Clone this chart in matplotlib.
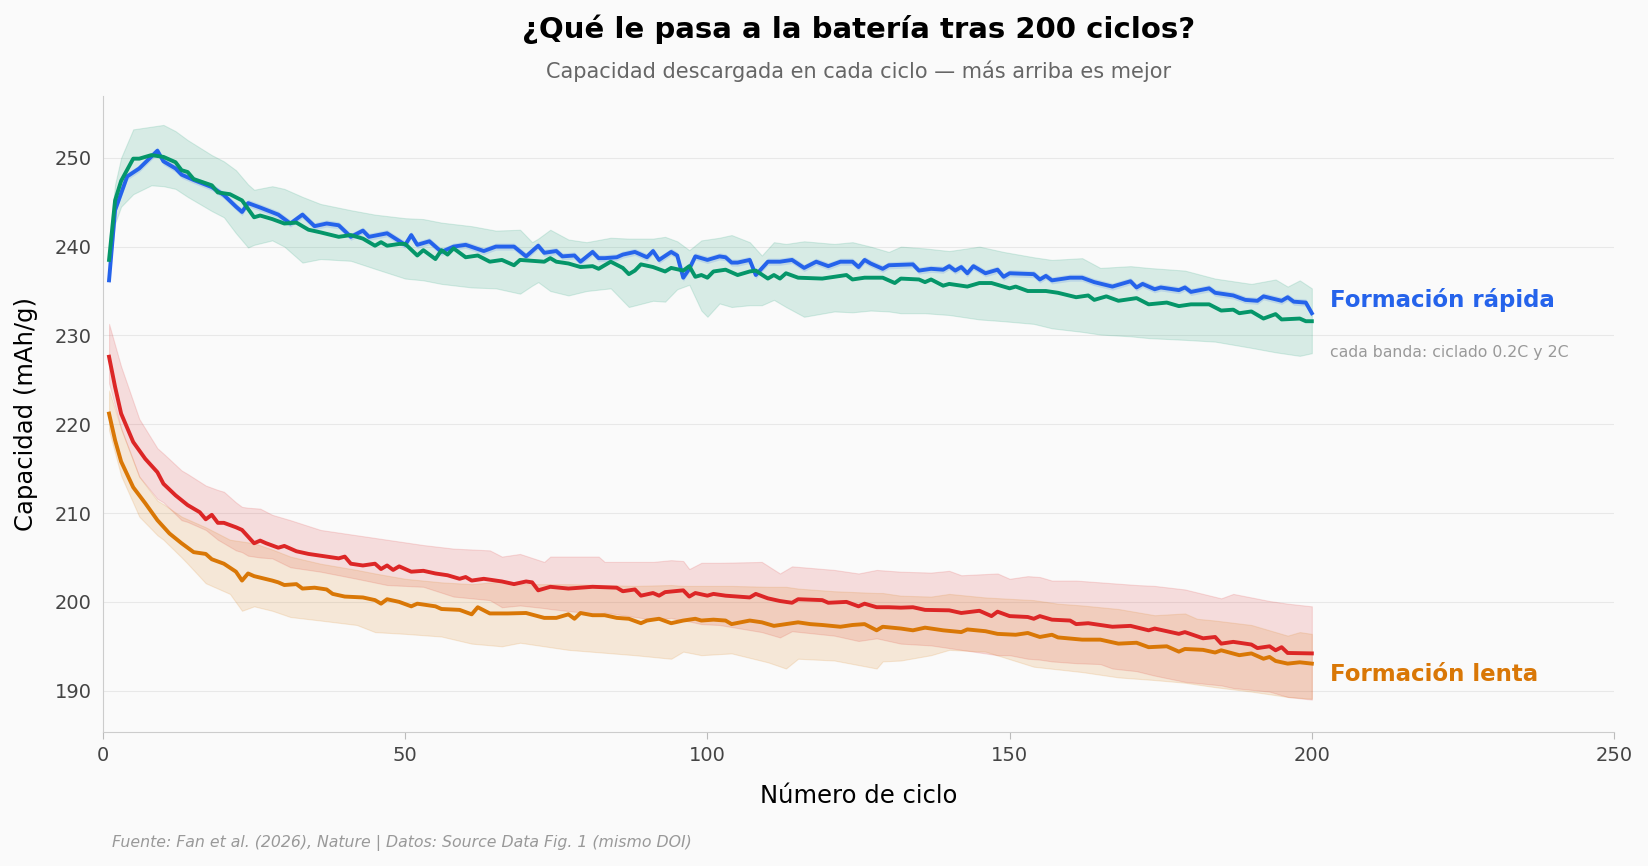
import matplotlib
matplotlib.use("Agg")
import matplotlib.pyplot as plt
import numpy as np

# --- data (cycle, capacity mAh/g) ---
fast_a_cycle = [1, 2, 4, 6, 9, 10, 12, 13, 15, 18, 20, 22, 23, 24, 26, 29, 31, 33, 35, 37,
                39, 41, 43, 44, 47, 50, 51, 52, 54, 56, 58, 60, 63, 65, 68, 70, 72, 73, 75, 76,
                78, 79, 81, 82, 83, 85, 86, 88, 90, 91, 92, 94, 95, 96, 97, 98, 100, 102, 103, 104,
                105, 107, 108, 110, 112, 114, 116, 118, 120, 122, 124, 125, 126, 127, 129, 130, 134, 135, 137, 139,
                140, 141, 142, 143, 144, 146, 148, 149, 150, 154, 155, 156, 157, 160, 162, 164, 167, 170, 171, 172,
                174, 175, 178, 179, 180, 183, 184, 187, 189, 191, 192, 195, 196, 197, 199, 200]
fast_a_cap = [236.2, 244.1, 247.9, 248.8, 250.8, 249.6, 248.8, 248.1, 247.5, 246.7, 245.8, 244.5, 243.9, 244.9, 244.4, 243.6, 242.6, 243.6, 242.3, 242.6,
              242.4, 241.1, 241.8, 241.1, 241.5, 240.2, 241.3, 240.2, 240.6, 239.4, 240.0, 240.2, 239.5, 240.0, 240.0, 238.9, 240.1, 239.3, 239.5, 238.9,
              239.0, 238.3, 239.4, 238.7, 238.7, 238.8, 239.1, 239.4, 238.8, 239.5, 238.5, 239.4, 239.0, 236.5, 237.5, 238.9, 238.5, 238.9, 238.8, 238.2,
              238.2, 238.5, 236.8, 238.3, 238.3, 238.5, 237.6, 238.3, 237.8, 238.3, 238.3, 237.7, 238.5, 238.1, 237.5, 237.9, 238.0, 237.3, 237.5, 237.4,
              237.8, 237.3, 237.7, 237.0, 237.8, 237.0, 237.4, 236.6, 237.0, 236.9, 236.3, 236.7, 236.2, 236.5, 236.5, 236.0, 235.5, 236.1, 235.4, 235.8,
              235.2, 235.4, 235.1, 235.4, 234.9, 235.3, 234.8, 234.5, 234.0, 233.9, 234.4, 233.9, 234.3, 233.8, 233.7, 232.5]
fast_a_spread = 0.4

fast_b_cycle = [1, 2, 3, 5, 6, 8, 10, 12, 13, 14, 15, 18, 19, 21, 23, 25, 26, 28, 30, 32,
                34, 36, 39, 41, 43, 45, 46, 47, 49, 50, 52, 53, 55, 56, 57, 58, 60, 62, 64, 66,
                68, 69, 71, 73, 74, 75, 77, 79, 81, 82, 84, 86, 87, 88, 89, 91, 93, 94, 96, 97,
                98, 99, 100, 101, 103, 105, 107, 108, 110, 111, 112, 113, 115, 119, 121, 123, 124, 126, 129, 131,
                132, 135, 136, 137, 139, 140, 143, 145, 147, 150, 151, 153, 156, 158, 161, 163, 164, 166, 168, 171,
                173, 176, 178, 180, 183, 185, 187, 188, 190, 192, 194, 195, 198, 199, 200]
fast_b_cap = [238.5, 245.2, 247.4, 249.9, 249.9, 250.3, 250.1, 249.5, 248.6, 248.4, 247.6, 246.9, 246.1, 245.9, 245.2, 243.3, 243.5, 243.1, 242.6, 242.7,
              241.9, 241.6, 241.1, 241.3, 240.9, 240.1, 240.5, 240.1, 240.3, 240.3, 239.0, 239.6, 238.6, 239.6, 239.1, 239.8, 238.8, 239.0, 238.3, 238.5,
              237.9, 238.5, 238.4, 238.3, 238.7, 238.3, 238.1, 237.7, 237.8, 237.5, 238.3, 237.6, 236.9, 237.3, 238.0, 237.7, 237.2, 237.6, 237.3, 237.8,
              236.6, 236.8, 236.5, 237.2, 237.4, 236.8, 237.2, 237.3, 236.4, 236.8, 236.4, 237.0, 236.5, 236.4, 236.6, 236.8, 236.3, 236.5, 236.5, 235.9,
              236.4, 236.3, 236.0, 236.3, 235.6, 235.8, 235.5, 235.9, 235.9, 235.3, 235.5, 235.0, 235.0, 234.8, 234.3, 234.5, 234.0, 234.4, 233.9, 234.2,
              233.5, 233.7, 233.3, 233.5, 233.5, 232.8, 232.9, 232.5, 232.7, 231.9, 232.4, 231.8, 231.9, 231.6, 231.6]

fast_band_cycle = [1, 2, 3, 5, 8, 10, 12, 14, 18, 20, 22, 24, 25, 28, 30, 33, 36, 41, 45, 50,
                   53, 56, 61, 65, 69, 71, 72, 74, 77, 80, 84, 87, 91, 93, 95, 97, 99, 100, 102, 104,
                   107, 109, 111, 113, 116, 121, 124, 127, 130, 132, 136, 140, 145, 149, 154, 157, 162, 165, 170, 173,
                   179, 184, 190, 194, 196, 198, 200]
fast_band_hi = [240.5, 247.0, 250.0, 253.2, 253.5, 253.7, 253.0, 252.0, 250.3, 249.6, 248.6, 247.0, 246.4, 246.8, 246.5, 245.6, 244.8, 244.1, 243.6, 243.2,
                243.1, 242.7, 242.3, 241.8, 241.9, 240.5, 240.9, 241.9, 240.8, 240.5, 241.0, 240.9, 240.9, 241.1, 240.6, 239.6, 240.7, 240.8, 241.0, 241.3,
                240.5, 239.0, 240.5, 240.3, 240.6, 240.3, 240.5, 240.0, 239.4, 240.0, 239.8, 239.5, 240.0, 239.4, 238.8, 238.5, 238.7, 237.6, 237.8, 237.6,
                237.3, 236.4, 235.8, 236.3, 235.5, 236.2, 235.3]
fast_band_lo = [236.8, 242.6, 244.5, 245.9, 246.9, 246.8, 246.5, 245.6, 244.0, 243.3, 241.5, 239.9, 240.2, 240.7, 240.0, 238.2, 238.6, 238.4, 237.5, 236.4,
                236.2, 235.8, 235.4, 235.3, 234.7, 235.6, 236.0, 235.0, 234.5, 235.0, 235.3, 233.2, 233.9, 233.8, 235.2, 235.7, 232.8, 232.1, 233.6, 233.2,
                233.4, 233.4, 234.0, 233.2, 232.1, 232.7, 232.6, 232.8, 232.7, 232.5, 232.5, 232.3, 231.8, 231.6, 231.3, 230.8, 230.4, 230.1, 229.9, 229.7,
                229.5, 229.3, 228.6, 228.1, 227.9, 227.7, 228.0]

slow_a_cycle = [1, 2, 3, 5, 7, 9, 10, 12, 14, 16, 17, 18, 19, 20, 22, 23, 25, 26, 27, 29,
                30, 32, 34, 37, 39, 40, 41, 43, 45, 46, 47, 48, 49, 51, 53, 55, 57, 59, 60, 61,
                63, 65, 66, 68, 70, 71, 72, 74, 77, 81, 85, 86, 88, 89, 91, 92, 93, 96, 97, 98,
                100, 101, 103, 105, 107, 108, 110, 112, 114, 115, 119, 120, 123, 125, 126, 128, 130, 132, 134, 136,
                140, 142, 145, 147, 148, 150, 153, 154, 155, 157, 160, 161, 163, 165, 167, 170, 173, 174, 176, 178,
                179, 182, 184, 185, 187, 190, 191, 193, 194, 195, 196, 200]
slow_a_cap = [227.6, 224.2, 221.2, 218.0, 216.1, 214.6, 213.3, 212.0, 210.9, 210.1, 209.3, 209.8, 208.9, 208.9, 208.4, 208.1, 206.6, 206.9, 206.6, 206.1,
              206.3, 205.7, 205.4, 205.1, 204.9, 205.1, 204.3, 204.1, 204.3, 203.7, 204.1, 203.6, 204.0, 203.4, 203.5, 203.2, 203.0, 202.6, 202.8, 202.4,
              202.6, 202.4, 202.3, 202.0, 202.3, 202.2, 201.3, 201.7, 201.5, 201.7, 201.6, 201.2, 201.4, 200.7, 201.0, 200.7, 201.1, 201.3, 200.6, 201.0,
              200.7, 200.9, 200.7, 200.6, 200.5, 200.9, 200.4, 200.1, 199.9, 200.3, 200.2, 199.9, 200.0, 199.5, 199.8, 199.4, 199.4, 199.35, 199.4, 199.1,
              199.05, 198.75, 199.0, 198.4, 198.9, 198.4, 198.3, 198.1, 198.4, 198.0, 197.9, 197.5, 197.6, 197.4, 197.2, 197.3, 196.8, 197.0, 196.7, 196.4,
              196.6, 195.9, 196.05, 195.3, 195.5, 195.2, 194.8, 195.0, 194.55, 194.9, 194.25, 194.2]

slow_b_cycle = [1, 2, 3, 5, 7, 9, 11, 13, 15, 17, 18, 20, 22, 23, 24, 25, 28, 29, 30, 32,
                33, 35, 37, 38, 40, 43, 45, 46, 47, 49, 51, 52, 55, 56, 59, 61, 62, 64, 67, 70,
                73, 75, 77, 78, 79, 81, 83, 85, 87, 89, 90, 92, 94, 96, 98, 99, 101, 103, 104, 107,
                109, 111, 113, 115, 117, 119, 122, 124, 126, 128, 129, 132, 134, 136, 139, 142, 143, 146, 148, 151,
                153, 155, 157, 158, 162, 165, 168, 171, 173, 176, 178, 179, 182, 184, 185, 188, 190, 192, 193, 194,
                196, 198, 200]
slow_b_cap = [221.2, 218.2, 215.8, 212.9, 211.1, 209.2, 207.7, 206.6, 205.6, 205.4, 204.8, 204.3, 203.4, 202.4, 203.2, 202.9, 202.4, 202.2, 201.9, 202.0,
              201.5, 201.6, 201.4, 200.9, 200.6, 200.5, 200.2, 199.8, 200.3, 200.0, 199.5, 199.8, 199.5, 199.2, 199.1, 198.6, 199.4, 198.7, 198.7, 198.75,
              198.2, 198.2, 198.6, 198.1, 198.75, 198.5, 198.5, 198.2, 198.1, 197.6, 197.9, 198.1, 197.6, 197.9, 198.1, 197.9, 198.0, 197.9, 197.5, 197.9,
              197.7, 197.3, 197.5, 197.7, 197.5, 197.4, 197.2, 197.4, 197.5, 196.8, 197.2, 197.0, 196.8, 197.1, 196.8, 196.6, 196.9, 196.7, 196.4, 196.3,
              196.5, 196.05, 196.3, 196.0, 195.75, 195.75, 195.3, 195.4, 194.9, 195.0, 194.4, 194.7, 194.6, 194.3, 194.55, 194.0, 194.2, 193.6, 193.8, 193.35,
              193.05, 193.2, 193.05]

slow_a_band_cycle = [1, 3, 6, 9, 10, 13, 14, 17, 19, 20, 22, 23, 24, 26, 28, 31, 36, 42, 47, 53,
                     58, 64, 66, 69, 73, 74, 82, 83, 91, 94, 96, 97, 99, 102, 109, 112, 114, 121, 125, 128,
                     132, 137, 140, 142, 148, 150, 153, 155, 157, 161, 165, 167, 171, 174, 179, 185, 187, 193, 196, 200]
slow_a_band_hi = [231.3, 226.5, 220.6, 217.3, 216.7, 214.8, 214.4, 213.1, 212.6, 212.4, 211.2, 210.7, 210.6, 210.5, 209.8, 209.2, 208.1, 207.5, 207.0, 206.4,
                  206.0, 205.8, 205.1, 205.4, 204.5, 205.1, 205.1, 204.5, 204.5, 204.7, 204.6, 203.7, 204.4, 204.4, 204.5, 203.2, 204.0, 203.6, 203.2, 203.6,
                  203.4, 203.3, 203.5, 203.0, 203.2, 202.6, 202.9, 202.8, 202.4, 202.4, 202.2, 202.1, 201.9, 201.8, 201.4, 200.4, 200.9, 200.1, 199.8, 199.5]
slow_a_band_lo = [224.6, 219.5, 214.1, 211.6, 211.2, 209.2, 209.0, 208.1, 207.0, 206.6, 205.8, 205.6, 205.2, 205.0, 204.9, 203.9, 203.4, 202.6, 201.9, 201.7,
                  200.6, 200.2, 199.4, 199.6, 199.3, 199.2, 198.6, 198.8, 198.0, 198.2, 197.9, 197.8, 197.5, 197.4, 196.6, 196.0, 196.7, 196.2, 195.6, 195.9,
                  195.3, 195.1, 194.8, 194.6, 194.0, 194.0, 193.6, 193.5, 193.3, 193.1, 193.0, 192.5, 192.2, 191.7, 191.0, 190.6, 190.3, 189.9, 189.3, 189.0]

slow_b_band_cycle = [1, 3, 6, 9, 10, 13, 14, 17, 21, 23, 25, 28, 31, 36, 42, 45, 50, 56, 61, 66,
                     69, 77, 88, 94, 96, 99, 104, 110, 113, 115, 121, 128, 129, 132, 137, 140, 146, 154, 158, 162,
                     165, 168, 174, 179, 181, 184, 190, 196, 198, 200]
slow_b_band_hi = [223.8, 219.5, 214.1, 211.4, 211.0, 209.6, 209.3, 208.4, 207.0, 206.8, 206.6, 205.9, 205.1, 204.3, 203.6, 203.2, 202.6, 202.2, 202.0, 202.3,
                  202.0, 202.0, 201.8, 201.9, 201.8, 201.8, 201.8, 201.7, 201.7, 201.5, 201.2, 201.0, 201.0, 200.7, 200.6, 200.9, 200.5, 200.2, 199.8, 199.6,
                  199.4, 199.2, 198.5, 198.7, 198.1, 197.9, 197.4, 196.2, 196.6, 196.4]
slow_b_band_lo = [219.3, 214.2, 209.6, 207.5, 207.0, 205.0, 204.3, 202.1, 200.9, 199.0, 199.5, 199.0, 198.3, 197.9, 197.4, 196.6, 196.4, 196.1, 195.3, 195.0,
                  195.4, 194.6, 194.0, 193.6, 194.4, 194.0, 194.2, 193.2, 192.5, 193.6, 193.4, 192.5, 193.3, 193.4, 194.0, 194.6, 194.4, 192.7, 192.4, 192.1,
                  191.8, 191.5, 191.2, 190.9, 190.7, 190.4, 189.9, 189.3, 189.2, 189.1]

title = "¿Qué le pasa a la batería tras 200 ciclos?"
subtitle = "Capacidad descargada en cada ciclo — más arriba es mejor"
source = "Fuente: Fan et al. (2026), Nature | Datos: Source Data Fig. 1 (mismo DOI)"

BLUE = "#2563eb"
GREEN = "#059669"
RED = "#dc2626"
ORANGE = "#d97706"
BG = "#fafafa"

fig = plt.figure(figsize=(16.48, 8.66), dpi=100, facecolor=BG)
ax = fig.add_axes([0.0625, 0.1542, 0.9169, 0.7354], facecolor=BG)

# bands
ax.fill_between(fast_band_cycle, fast_band_lo, fast_band_hi, color=GREEN, alpha=0.14, lw=0.8)
fa = np.array(fast_a_cap)
ax.fill_between(fast_a_cycle, fa - fast_a_spread, fa + fast_a_spread, color=BLUE, alpha=0.15, lw=0)
ax.fill_between(slow_a_band_cycle, slow_a_band_lo, slow_a_band_hi, color=RED, alpha=0.14, lw=0.8)
ax.fill_between(slow_b_band_cycle, slow_b_band_lo, slow_b_band_hi, color=ORANGE, alpha=0.14, lw=0.8)

# lines
ax.plot(fast_a_cycle, fast_a_cap, color=BLUE, lw=2.8, zorder=3)
ax.plot(fast_b_cycle, fast_b_cap, color=GREEN, lw=2.8, zorder=4)
ax.plot(slow_a_cycle, slow_a_cap, color=RED, lw=2.8, zorder=3)
ax.plot(slow_b_cycle, slow_b_cap, color=ORANGE, lw=2.8, zorder=3)

ax.set_xlim(0, 250)
ax.set_ylim(185.3, 257)
ax.set_yticks([190, 200, 210, 220, 230, 240, 250])
ax.set_xticks([0, 50, 100, 150, 200, 250])
ax.grid(axis="y", color="#e8e8e8", lw=0.8)
ax.set_axisbelow(True)
for s in ["top", "right"]:
    ax.spines[s].set_visible(False)
for s in ["left", "bottom"]:
    ax.spines[s].set_color("#cccccc")
ax.tick_params(colors="#bbbbbb", labelcolor="#444444", labelsize=14)
ax.tick_params(axis="x", length=4.8, pad=5)
ax.tick_params(axis="y", length=0, pad=8)

ax.set_xlabel("Número de ciclo", fontsize=17.5)
ax.set_ylabel("Capacidad (mAh/g)", fontsize=17.5)
ax.xaxis.set_label_coords(0.5, -0.099)
ax.xaxis.label.set_va("center")
ax.yaxis.set_label_coords(-0.051, 0.5)
ax.yaxis.label.set_va("center")

ax.text(203, 234.0, "Formación rápida", color=BLUE, fontsize=16.5, fontweight="bold", va="center")
ax.text(203, 228.1, "cada banda: ciclado 0.2C y 2C", color="#999999", fontsize=11.3, va="center")
ax.text(203, 191.8, "Formación lenta", color=ORANGE, fontsize=16.5, fontweight="bold", va="center")

fig.text(0.521, 0.966, title, ha="center", va="center", fontsize=21, fontweight="bold")
fig.text(0.521, 0.9175, subtitle, ha="center", va="center", fontsize=15, color="#666666")
fig.text(0.068, 0.0266, source, ha="left", va="center", fontsize=11.3, color="#999999", style="italic")

fig.savefig("out.png", dpi=100, facecolor=BG)
